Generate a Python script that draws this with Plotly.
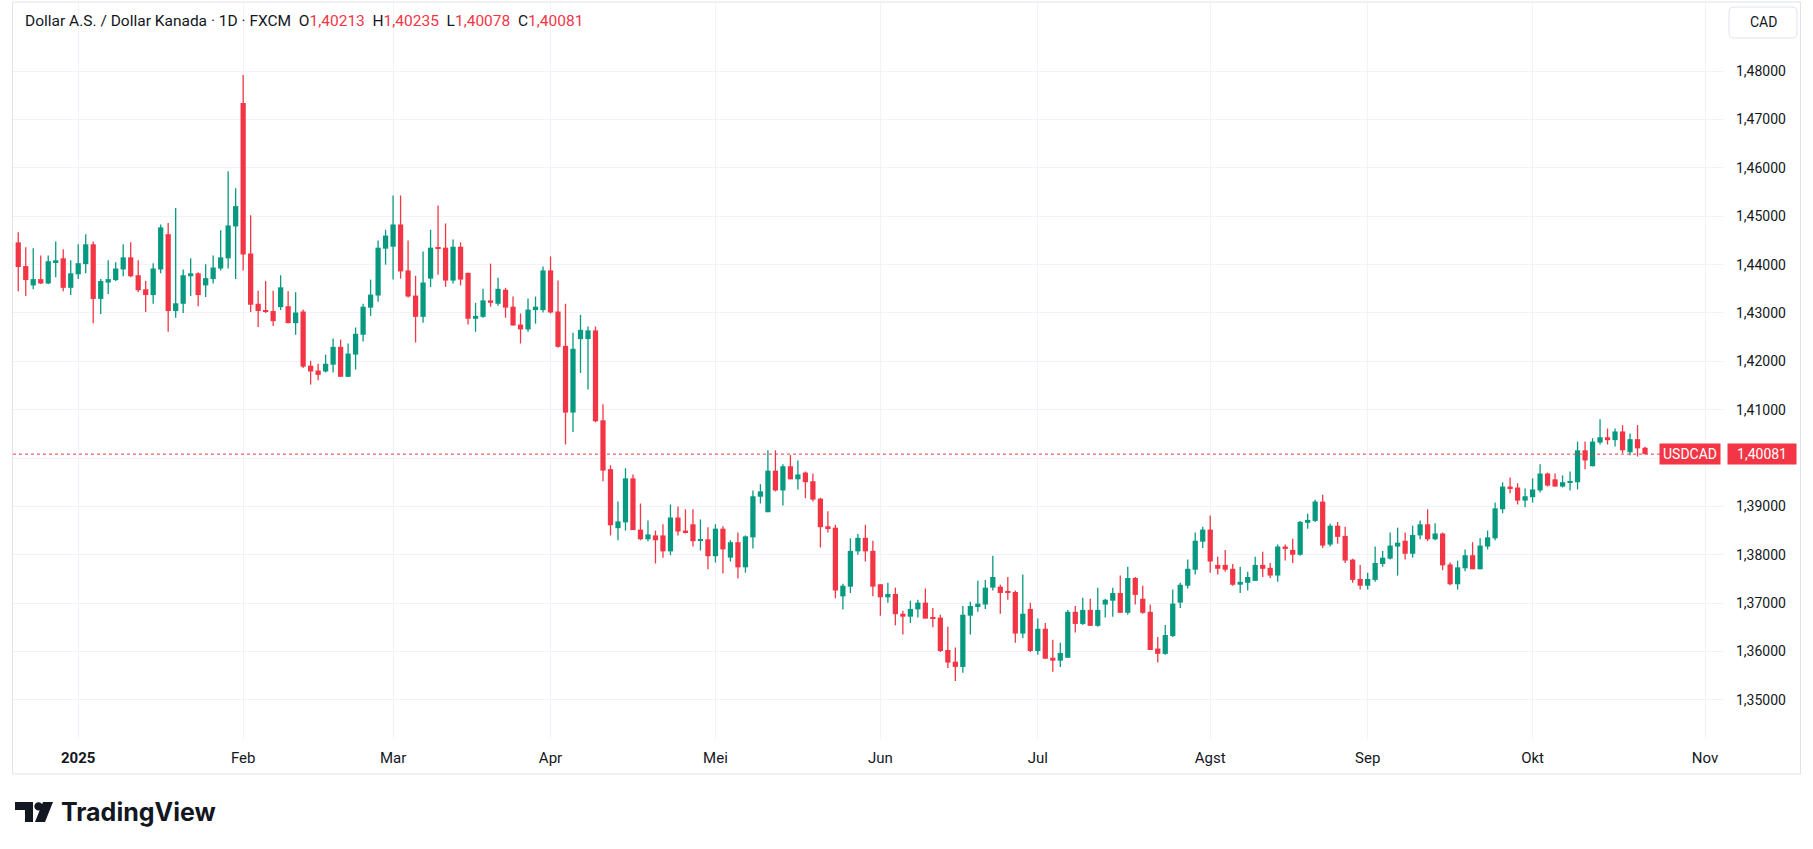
import pandas as pd
import plotly.graph_objects as go

# FXCM daily bars, no bar on Dec 25 / Jan 1
holidays = ["2024-12-25", "2025-01-01"]
dates = [d for d in pd.bdate_range("2024-12-19", "2025-10-22")
         if d.strftime("%Y-%m-%d") not in holidays]

open_ = [
    1.4446, 1.4397, 1.4357, 1.4370, 1.4361, 1.4405, 1.4413, 1.4352,
    1.4380, 1.4401, 1.4442, 1.4329, 1.4363, 1.4368, 1.4390, 1.4415, 1.4378, 1.4349, 1.4337, 1.4390, 1.4463, 1.4304, 1.4319, 1.4376, 1.4382, 1.4357, 1.4370, 1.4392, 1.4413, 1.4479,
    1.4734, 1.4423, 1.4319, 1.4306, 1.4304, 1.4312, 1.4314, 1.4279, 1.4303, 1.4191, 1.4181, 1.4179, 1.4193, 1.4230, 1.4168, 1.4214, 1.4255, 1.4311, 1.4336, 1.4433,
    1.4437, 1.4483, 1.4388, 1.4336, 1.4292, 1.4371, 1.4435, 1.4435, 1.4367, 1.4437, 1.4383, 1.4288, 1.4292, 1.4326, 1.4319, 1.4348, 1.4313, 1.4276, 1.4266, 1.4306, 1.4306,
    1.4388, 1.4303, 1.4232, 1.4094, 1.4246, 1.4246, 1.4264, 1.4078, 1.3977, 1.3855, 1.3867, 1.3958, 1.3852, 1.3832, 1.3840, 1.3840, 1.3807, 1.3877, 1.3850, 1.3863, 1.3830, 1.3832,
    1.3797, 1.3854, 1.3794, 1.3826, 1.3774, 1.3836, 1.3920, 1.3888, 1.3974, 1.3933, 1.3983, 1.3956, 1.3970, 1.3952, 1.3916, 1.3859, 1.3856, 1.3714, 1.3734, 1.3807, 1.3835, 1.3808,
    1.3739, 1.3712, 1.3719, 1.3678, 1.3672, 1.3687, 1.3701, 1.3670, 1.3670, 1.3603, 1.3579, 1.3568, 1.3674, 1.3692, 1.3697, 1.3732, 1.3734, 1.3723, 1.3723, 1.3637, 1.3688,
    1.3601, 1.3647, 1.3587, 1.3581, 1.3587, 1.3682, 1.3657, 1.3686, 1.3653, 1.3697, 1.3705, 1.3721, 1.3680, 1.3752, 1.3709, 1.3682, 1.3606, 1.3595, 1.3632, 1.3701, 1.3736, 1.3769, 1.3827,
    1.3852, 1.3779, 1.3779, 1.3771, 1.3738, 1.3742, 1.3746, 1.3779, 1.3773, 1.3757, 1.3817, 1.3810, 1.3800, 1.3866, 1.3870, 1.3910, 1.3821, 1.3860, 1.3839, 1.3790, 1.3750,
    1.3736, 1.3748, 1.3781, 1.3792, 1.3817, 1.3829, 1.3802, 1.3840, 1.3863, 1.3832, 1.3844, 1.3780, 1.3739, 1.3772, 1.3799, 1.3770, 1.3817, 1.3834, 1.3894, 1.3941, 1.3939, 1.3912,
    1.3919, 1.3933, 1.3968, 1.3956, 1.3941, 1.3950, 1.3950, 1.4016, 1.3983, 1.4032, 1.4043, 1.4037, 1.4055, 1.4012, 1.4039, 1.40213,
]
high = [
    1.4467, 1.4436, 1.4434, 1.4419, 1.4419, 1.4448, 1.4432, 1.4409,
    1.4442, 1.4463, 1.4448, 1.4370, 1.4409, 1.4405, 1.4442, 1.4446, 1.4409, 1.4366, 1.4403, 1.4483, 1.4486, 1.4517, 1.4390, 1.4413, 1.4384, 1.4401, 1.4419, 1.4471, 1.4593, 1.4558,
    1.4792, 1.4502, 1.4346, 1.4366, 1.4346, 1.4378, 1.4345, 1.4343, 1.4307, 1.4201, 1.4195, 1.4214, 1.4247, 1.4245, 1.4237, 1.4270, 1.4319, 1.4369, 1.4450, 1.4472,
    1.4543, 1.4543, 1.4450, 1.4377, 1.4427, 1.4472, 1.4522, 1.4485, 1.4452, 1.4446, 1.4383, 1.4321, 1.4350, 1.4402, 1.4373, 1.4352, 1.4334, 1.4299, 1.4330, 1.4334, 1.4396,
    1.4417, 1.4367, 1.4319, 1.4259, 1.4296, 1.4272, 1.4272, 1.4111, 1.3985, 1.3910, 1.3979, 1.3966, 1.3906, 1.3871, 1.3850, 1.3863, 1.3904, 1.3900, 1.3894, 1.3894, 1.3873, 1.3857,
    1.3863, 1.3859, 1.3830, 1.3846, 1.3840, 1.3933, 1.3946, 1.4016, 1.4016, 1.3987, 1.4006, 1.3995, 1.3972, 1.3968, 1.3918, 1.3890, 1.3862, 1.3740, 1.3834, 1.3843, 1.3862, 1.3829,
    1.3739, 1.3742, 1.3732, 1.3684, 1.3705, 1.3707, 1.3730, 1.3690, 1.3676, 1.3651, 1.3608, 1.3694, 1.3703, 1.3746, 1.3748, 1.3798, 1.3738, 1.3754, 1.3726, 1.3759, 1.3701,
    1.3668, 1.3659, 1.3624, 1.3618, 1.3686, 1.3694, 1.3711, 1.3709, 1.3732, 1.3709, 1.3732, 1.3757, 1.3775, 1.3754, 1.3736, 1.3697, 1.3630, 1.3655, 1.3728, 1.3742, 1.3790, 1.3846, 1.3858,
    1.3881, 1.3796, 1.3810, 1.3781, 1.3775, 1.3765, 1.3796, 1.3806, 1.3783, 1.3821, 1.3821, 1.3833, 1.3870, 1.3885, 1.3914, 1.3924, 1.3864, 1.3868, 1.3858, 1.3792, 1.3779,
    1.3763, 1.3817, 1.3808, 1.3846, 1.3856, 1.3846, 1.3860, 1.3871, 1.3894, 1.3865, 1.3846, 1.3784, 1.3788, 1.3811, 1.3826, 1.3834, 1.3850, 1.3908, 1.3950, 1.3960, 1.3948, 1.3937,
    1.3958, 1.3987, 1.3970, 1.3968, 1.3964, 1.3972, 1.4034, 1.4034, 1.4041, 1.4080, 1.4061, 1.4061, 1.4068, 1.4051, 1.4068, 1.40235,
]
low = [
    1.4345, 1.4335, 1.4349, 1.4360, 1.4360, 1.4374, 1.4345, 1.4337,
    1.4370, 1.4382, 1.4279, 1.4298, 1.4339, 1.4366, 1.4376, 1.4374, 1.4343, 1.4302, 1.4319, 1.4382, 1.4261, 1.4290, 1.4300, 1.4335, 1.4314, 1.4333, 1.4361, 1.4388, 1.4392, 1.4370,
    1.4388, 1.4302, 1.4271, 1.4300, 1.4273, 1.4306, 1.4279, 1.4255, 1.4186, 1.4152, 1.4161, 1.4177, 1.4177, 1.4168, 1.4168, 1.4183, 1.4241, 1.4294, 1.4323, 1.4400,
    1.4369, 1.4371, 1.4332, 1.4239, 1.4280, 1.4354, 1.4379, 1.4354, 1.4361, 1.4357, 1.4276, 1.4261, 1.4290, 1.4313, 1.4315, 1.4290, 1.4274, 1.4237, 1.4261, 1.4278, 1.4301,
    1.4299, 1.4228, 1.4028, 1.4054, 1.4176, 1.4142, 1.4074, 1.3952, 1.3840, 1.3830, 1.3850, 1.3851, 1.3830, 1.3828, 1.3782, 1.3794, 1.3799, 1.3840, 1.3844, 1.3817, 1.3809, 1.3770,
    1.3784, 1.3761, 1.3786, 1.3751, 1.3763, 1.3813, 1.3906, 1.3888, 1.3931, 1.3902, 1.3956, 1.3935, 1.3917, 1.3910, 1.3815, 1.3846, 1.3710, 1.3687, 1.3721, 1.3800, 1.3786, 1.3714,
    1.3674, 1.3701, 1.3654, 1.3635, 1.3659, 1.3670, 1.3668, 1.3650, 1.3599, 1.3566, 1.3539, 1.3556, 1.3635, 1.3682, 1.3688, 1.3726, 1.3678, 1.3707, 1.3618, 1.3628, 1.3599,
    1.3593, 1.3585, 1.3558, 1.3568, 1.3587, 1.3639, 1.3655, 1.3653, 1.3651, 1.3670, 1.3672, 1.3680, 1.3676, 1.3697, 1.3678, 1.3603, 1.3577, 1.3593, 1.3630, 1.3690, 1.3730, 1.3759, 1.3814,
    1.3763, 1.3759, 1.3765, 1.3736, 1.3721, 1.3726, 1.3746, 1.3754, 1.3752, 1.3744, 1.3788, 1.3783, 1.3798, 1.3854, 1.3868, 1.3814, 1.3817, 1.3823, 1.3783, 1.3742, 1.3728,
    1.3728, 1.3744, 1.3775, 1.3790, 1.3757, 1.3790, 1.3794, 1.3832, 1.3828, 1.3830, 1.3768, 1.3737, 1.3728, 1.3766, 1.3770, 1.3770, 1.3811, 1.3830, 1.3886, 1.3927, 1.3904, 1.3898,
    1.3908, 1.3929, 1.3941, 1.3941, 1.3939, 1.3933, 1.3935, 1.3977, 1.3983, 1.4028, 1.4028, 1.4024, 1.4010, 1.4006, 1.4003, 1.40078,
]
close = [
    1.4395, 1.4368, 1.4370, 1.4361, 1.4407, 1.4409, 1.4352, 1.4382,
    1.4403, 1.4442, 1.4329, 1.4366, 1.4370, 1.4392, 1.4415, 1.4376, 1.4347, 1.4337, 1.4392, 1.4477, 1.4304, 1.4320, 1.4378, 1.4382, 1.4337, 1.4372, 1.4394, 1.4415, 1.4481, 1.4521,
    1.4421, 1.4317, 1.4304, 1.4302, 1.4283, 1.4353, 1.4279, 1.4301, 1.4189, 1.4179, 1.4172, 1.4195, 1.4230, 1.4168, 1.4216, 1.4257, 1.4313, 1.4338, 1.4435, 1.4460,
    1.4483, 1.4386, 1.4334, 1.4292, 1.4363, 1.4435, 1.4433, 1.4367, 1.4437, 1.4369, 1.4288, 1.4294, 1.4326, 1.4321, 1.4350, 1.4311, 1.4274, 1.4266, 1.4307, 1.4313, 1.4388,
    1.4301, 1.4230, 1.4094, 1.4226, 1.4265, 1.4264, 1.4076, 1.3974, 1.3861, 1.3869, 1.3958, 1.3851, 1.3832, 1.3842, 1.3830, 1.3807, 1.3877, 1.3848, 1.3846, 1.3828, 1.3832, 1.3797,
    1.3854, 1.3811, 1.3826, 1.3774, 1.3838, 1.3921, 1.3931, 1.3974, 1.3933, 1.3983, 1.3956, 1.3966, 1.3950, 1.3914, 1.3857, 1.3855, 1.3726, 1.3736, 1.3808, 1.3835, 1.3807, 1.3734,
    1.3712, 1.3719, 1.3677, 1.3672, 1.3688, 1.3701, 1.3668, 1.3668, 1.3601, 1.3577, 1.3568, 1.3676, 1.3694, 1.3699, 1.3732, 1.3754, 1.3721, 1.3721, 1.3637, 1.3678, 1.3601,
    1.3647, 1.3585, 1.3581, 1.3597, 1.3682, 1.3657, 1.3686, 1.3653, 1.3686, 1.3707, 1.3721, 1.3680, 1.3752, 1.3717, 1.3680, 1.3603, 1.3595, 1.3634, 1.3699, 1.3738, 1.3771, 1.3829, 1.3852,
    1.3786, 1.3771, 1.3769, 1.3738, 1.3744, 1.3754, 1.3779, 1.3771, 1.3757, 1.3817, 1.3812, 1.3800, 1.3868, 1.3872, 1.3910, 1.3819, 1.3860, 1.3837, 1.3788, 1.3748, 1.3736,
    1.3750, 1.3783, 1.3794, 1.3819, 1.3825, 1.3802, 1.3841, 1.3863, 1.3832, 1.3844, 1.3778, 1.3739, 1.3774, 1.3799, 1.3770, 1.3819, 1.3836, 1.3896, 1.3941, 1.3937, 1.3912, 1.3921,
    1.3935, 1.3968, 1.3943, 1.3941, 1.3950, 1.3952, 1.4016, 1.3995, 1.4034, 1.4043, 1.4037, 1.4055, 1.4016, 1.4039, 1.4020, 1.40081,
]

month_labels = ["<b>2025</b>", "Feb", "Mar", "Apr", "Mei", "Jun", "Jul", "Agst", "Sep", "Okt", "Nov"]
price_ticks = [1.35, 1.36, 1.37, 1.38, 1.39, 1.40, 1.41, 1.42, 1.43, 1.44, 1.45, 1.46, 1.47, 1.48]

UP = "#089981"
DOWN = "#F23645"
TEXT = "#131722"
GRID = "#F0F3FA"
FONT = "Roboto, Arial, sans-serif"

# pixel layout of the 1813x849 screenshot
W, H = 1813, 849
PL, PR, PT, PB = 13, 1723, 3, 739


def px(x):
    return (x - PL) / (PR - PL)


def py(y):
    return (PB - y) / (PB - PT)


def fmt(v):
    return f"{v:.5f}".replace(".", ",")


# month tick positions on the bar index axis (axis runs a little past the data)
axis_days = [d for d in pd.bdate_range("2024-12-19", "2025-11-07")
             if d.strftime("%Y-%m-%d") not in holidays]
tickvals = []
prev = None
for i, d in enumerate(axis_days):
    key = (d.year, d.month)
    if prev is not None and key != prev:
        tickvals.append(i)
    prev = key
tickvals = tickvals[:len(month_labels)]

idx = list(range(len(dates)))
up = [i for i in idx if close[i] >= open_[i]]
dn = [i for i in idx if close[i] < open_[i]]


def bodies(ids, color):
    return go.Bar(
        x=ids,
        y=[max(abs(close[i] - open_[i]), 0.00003) for i in ids],
        base=[min(open_[i], close[i]) for i in ids],
        width=0.7,
        marker=dict(color=color, line_width=0),
        hoverinfo="skip",
    )


def wicks(ids, color):
    xs, ys = [], []
    for i in ids:
        xs += [i, i, None]
        ys += [low[i], high[i], None]
    return go.Scatter(x=xs, y=ys, mode="lines",
                      line=dict(color=color, width=1.3), hoverinfo="skip")


fig = go.Figure()
fig.add_trace(wicks(up, UP))
fig.add_trace(wicks(dn, DOWN))
fig.add_trace(bodies(up, UP))
fig.add_trace(bodies(dn, DOWN))

last_col = DOWN if close[-1] < open_[-1] else UP
nb = "\u00a0"


def val(v):
    return f"<span style='color:{last_col}'>{fmt(v)}</span>"


title = ("Dollar A.S. / Dollar Kanada · 1D · FXCM" + nb * 2
         + "O" + val(open_[-1]) + nb * 2 + "H" + val(high[-1]) + nb * 2
         + "L" + val(low[-1]) + nb * 2 + "C" + val(close[-1]))

# price tick hidden behind the last-price label (grid line stays)
price_text = ["" if abs(v - close[-1]) < 0.002 else fmt(v) for v in price_ticks]

annotations = [
    dict(x=px(23), y=py(21), xref="paper", yref="paper", text=title,
         showarrow=False, xanchor="left", yanchor="middle",
         font=dict(size=15.5, color=TEXT, family=FONT)),
    dict(x=px(1721), y=close[-1], xref="paper", yref="y", text="USDCAD",
         showarrow=False, xanchor="right", yanchor="middle",
         bgcolor=last_col, width=58, height=18, borderpad=1,
         font=dict(size=14, color="white", family=FONT)),
    dict(x=px(1727), y=close[-1], xref="paper", yref="y", text=fmt(close[-1]),
         showarrow=False, xanchor="left", yanchor="middle",
         bgcolor=last_col, width=66, height=18, borderpad=1,
         font=dict(size=14, color="white", family=FONT)),
    dict(x=px(1763), y=py(22), xref="paper", yref="paper", text="CAD",
         showarrow=False, xanchor="center", yanchor="middle",
         font=dict(size=14, color=TEXT, family=FONT)),
    dict(x=px(59), y=py(812), xref="paper", yref="paper", text="<b>TradingView</b>",
         showarrow=False, xanchor="left", yanchor="middle",
         font=dict(size=25, color=TEXT, family="Inter, Roboto, sans-serif")),
]

# CAD box with rounded corners
cx0, cx1, cy0, cy1, r = px(1729), px(1797), py(7), py(38), 5
rx, ry = r / (PR - PL), r / (PB - PT)
cad_path = (f"M {cx0 + rx},{cy0} L {cx1 - rx},{cy0} Q {cx1},{cy0} {cx1},{cy0 - ry} "
            f"L {cx1},{cy1 + ry} Q {cx1},{cy1} {cx1 - rx},{cy1} L {cx0 + rx},{cy1} "
            f"Q {cx0},{cy1} {cx0},{cy1 + ry} L {cx0},{cy0 - ry} Q {cx0},{cy0} {cx0 + rx},{cy0} Z")

shapes = [
    # chart frame
    dict(type="rect", xref="paper", yref="paper", x0=px(12.5), x1=px(1800.5),
         y0=py(774), y1=py(2), line=dict(color="#E0E3EB", width=1), layer="below"),
    dict(type="path", xref="paper", yref="paper", path=cad_path,
         line=dict(color="#E0E3EB", width=1)),
    # last price line
    dict(type="line", xref="paper", yref="y", x0=0, x1=1, y0=close[-1], y1=close[-1],
         line=dict(color=last_col, width=1, dash="dot")),
    # TradingView logo mark
    dict(type="rect", xref="paper", yref="paper", x0=px(15), x1=px(33), y0=py(810), y1=py(802),
         fillcolor=TEXT, line_width=0),
    dict(type="rect", xref="paper", yref="paper", x0=px(25), x1=px(33), y0=py(822), y1=py(802),
         fillcolor=TEXT, line_width=0),
    dict(type="circle", xref="paper", yref="paper", x0=px(34.3), x1=px(42.7), y0=py(810.5), y1=py(802.2),
         fillcolor=TEXT, line_width=0),
    dict(type="path", xref="paper", yref="paper",
         path=f"M {px(43)},{py(802)} L {px(53)},{py(802)} L {px(45)},{py(822)} L {px(35)},{py(822)} Z",
         fillcolor=TEXT, line_width=0),
]

fig.update_layout(
    width=W, height=H,
    margin=dict(l=PL, r=W - PR, t=PT, b=H - PB),
    paper_bgcolor="white", plot_bgcolor="white",
    showlegend=False, barmode="overlay",
    separators=",.",
    font=dict(family=FONT, color=TEXT, size=15),
    xaxis=dict(range=[-0.7, 227.4], tickvals=tickvals, ticktext=month_labels,
               showgrid=True, gridcolor=GRID, gridwidth=1, zeroline=False,
               showline=False, ticks="", ticklabelstandoff=8,
               tickfont=dict(size=15, color=TEXT), fixedrange=True),
    yaxis=dict(range=[1.3419, 1.4941], side="right", tickvals=price_ticks,
               ticktext=price_text, showgrid=True, gridcolor=GRID, gridwidth=1,
               zeroline=False, showline=False, ticks="", ticklabelstandoff=12,
               tickfont=dict(size=14, color=TEXT), fixedrange=True),
    annotations=annotations,
    shapes=shapes,
)

fig.write_html("out.html", config={"displayModeBar": False},
               post_script="document.body.style.margin='0';")
